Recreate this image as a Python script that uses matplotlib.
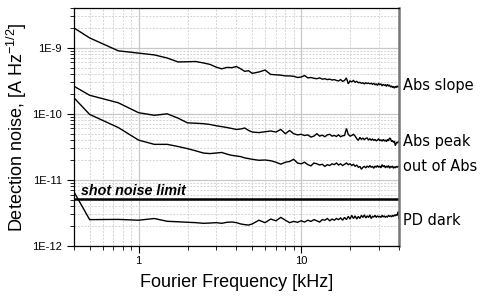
import matplotlib
matplotlib.use("Agg")
import matplotlib.pyplot as plt
from matplotlib.ticker import LogLocator, NullFormatter, FixedLocator

freq = [0.4, 0.5, 0.75, 1.0, 1.25, 1.5, 1.75, 2.0, 2.25, 2.5, 2.75, 3.0, 3.25, 3.5, 3.75,
        4.0, 4.25, 4.5, 4.75, 5.0, 5.5, 6.0, 6.5, 7.0, 7.5, 8.0, 8.5, 9.0, 9.5,
        10, 10.5, 11, 11.5, 12, 12.5, 13, 13.5, 14, 14.5, 15, 15.5, 16, 16.5, 17, 17.5,
        18, 18.5, 19, 19.5, 20, 20.5, 21, 21.5, 22, 22.5, 23, 23.5, 24, 24.5, 25, 25.5,
        26, 26.5, 27, 27.5, 28, 28.5, 29, 29.5, 30, 30.5, 31, 31.5, 32, 32.5, 33, 33.5,
        34, 34.5, 35, 35.5, 36, 36.5, 37, 37.5, 38, 38.5, 39, 39.5, 40]

# units of 1e-10
abs_slope = [20, 14.1, 9.0, 8.3, 7.8, 7.0, 6.1, 6.15, 6.2, 5.9, 5.6, 5.1, 4.8, 5.05, 5.0,
             5.2, 4.8, 4.4, 4.5, 4.1, 4.3, 4.6, 3.95, 3.9, 3.85, 3.75, 3.75, 3.7, 3.55,
             3.6, 3.8, 3.5, 3.55, 3.45, 3.4, 3.5, 3.35, 3.4, 3.3, 3.35, 3.25, 3.3, 3.2, 3.15, 3.3,
             3.1, 3.2, 3.5, 2.85, 3.15, 3.05, 3.2, 3.0, 3.1, 2.95, 3.0, 2.9, 2.95, 2.85, 2.95, 2.88,
             2.92, 2.85, 2.9, 2.8, 2.9, 2.75, 2.85, 2.7, 2.9, 2.75, 2.85, 2.65, 2.8, 2.7, 2.75, 2.6,
             2.8, 2.65, 2.7, 2.55, 2.65, 2.5, 2.6, 2.45, 2.6, 2.5, 2.65, 2.55, 2.6]

# units of 1e-11
abs_peak = [26.2, 19.1, 14.7, 10.4, 9.5, 10.0, 8.6, 7.3, 7.2, 7.1, 6.9, 6.6, 6.4, 6.2, 6.0,
            5.8, 5.9, 6.1, 5.6, 5.3, 5.2, 5.35, 5.5, 5.3, 5.8, 5.0, 5.6, 5.0, 4.8,
            4.9, 4.7, 4.8, 4.45, 4.6, 5.0, 4.6, 4.75, 4.5, 4.8, 4.9, 4.6, 4.7, 4.55, 4.8, 4.5,
            4.65, 4.7, 6.0, 4.9, 4.6, 4.7, 4.9, 4.6, 4.2, 3.97, 4.4, 4.1, 4.3, 4.05, 4.25, 4.3,
            4.0, 4.2, 4.0, 4.15, 3.95, 4.1, 3.9, 4.0, 4.2, 3.9, 4.05, 3.85, 4.1, 3.9, 4.0, 3.8,
            4.1, 3.9, 4.3, 4.2, 3.8, 3.95, 3.7, 3.85, 3.3, 3.6, 3.75, 3.6, 3.9]

# units of 1e-11
out_of_abs = [17.5, 9.8, 6.2, 4.0, 3.45, 3.45, 3.2, 2.97, 2.75, 2.55, 2.5, 2.55, 2.6, 2.45, 2.35,
              2.3, 2.25, 2.15, 2.1, 2.05, 1.98, 2.0, 1.95, 1.85, 1.73, 1.85, 1.9, 2.05, 1.8,
              1.75, 1.85, 1.7, 1.63, 1.8, 1.75, 1.68, 1.72, 1.6, 1.7, 1.65, 1.75, 1.7, 1.8, 1.68, 1.75,
              1.65, 1.72, 1.8, 1.7, 1.75, 1.65, 1.72, 1.6, 1.68, 1.55, 1.6, 1.45, 1.55, 1.6, 1.52, 1.62,
              1.55, 1.65, 1.55, 1.6, 1.5, 1.62, 1.55, 1.65, 1.55, 1.62, 1.52, 1.7, 1.58, 1.65, 1.52, 1.62,
              1.55, 1.65, 1.5, 1.6, 1.55, 1.62, 1.5, 1.58, 1.52, 1.6, 1.55, 1.6, 1.58]

# units of 1e-12
pd_dark = [6.6, 2.5, 2.52, 2.45, 2.6, 2.36, 2.32, 2.28, 2.25, 2.2, 2.22, 2.25, 2.2, 2.28, 2.3,
           2.25, 2.15, 2.1, 2.07, 2.15, 2.45, 2.25, 2.55, 2.4, 2.7, 2.45, 2.25, 2.35, 2.28,
           2.4, 2.3, 2.45, 2.35, 2.5, 2.4, 2.3, 2.5, 2.45, 2.6, 2.4, 2.55, 2.45, 2.6, 2.5, 2.65,
           2.45, 2.7, 2.5, 2.8, 2.55, 2.9, 2.6, 2.85, 2.55, 2.8, 2.6, 2.9, 2.7, 2.95, 2.65, 2.85,
           2.7, 2.95, 2.6, 2.8, 2.75, 2.9, 2.7, 2.85, 2.75, 2.8, 2.7, 2.9, 2.75, 2.85, 2.7, 2.8,
           2.75, 2.9, 2.8, 2.85, 2.75, 2.9, 2.8, 2.95, 2.85, 3.0, 2.9, 3.3, 2.6]

shot_noise = 5.1e-12

series = [
    ("Abs slope", abs_slope, 1e-10),
    ("Abs peak", abs_peak, 1e-11),
    ("out of Abs", out_of_abs, 1e-11),
    ("PD dark", pd_dark, 1e-12),
]
label_pos = {"Abs slope": 2.7e-10, "Abs peak": 3.8e-11, "out of Abs": 1.6e-11, "PD dark": 2.4e-12}

ytick_vals = [1e-12, 1e-11, 1e-10, 1e-9]
ytick_labels = ["1E-12", "1E-11", "1E-10", "1E-9"]
xtick_vals = [1, 10]
xtick_labels = ["1", "10"]

plt.rcParams['font.family'] = ['Liberation Sans', 'DejaVu Sans']
plt.rcParams['mathtext.fontset'] = 'custom'
plt.rcParams['mathtext.rm'] = 'Liberation Sans'
plt.rcParams['mathtext.it'] = 'Liberation Sans:italic'
plt.rcParams['mathtext.default'] = 'regular'

fig = plt.figure(figsize=(4.83, 2.97), dpi=100)
ax = fig.add_axes([0.153, 0.172, 0.673, 0.801])
ax.set_xscale('log')
ax.set_yscale('log')
ax.set_xlim(0.4, 40)
ax.set_ylim(1e-12, 4e-9)

for name, vals, scale in series:
    n = min(len(freq), len(vals))
    ys = [v * scale for v in vals[:n]]
    ax.plot(freq[:n], ys, color='black', lw=1.0, solid_joinstyle='miter')
    ax.text(1.012, label_pos[name], name, transform=ax.get_yaxis_transform(),
            fontsize=10.5, family='DejaVu Sans', va='center', ha='left')

ax.axhline(shot_noise, color='black', lw=1.8)
ax.text(0.44, 6.9e-12, "shot noise limit", fontsize=10.3, fontweight='bold',
        fontstyle='italic', va='center', ha='left')

ax.yaxis.set_major_locator(FixedLocator(ytick_vals))
ax.set_yticklabels(ytick_labels)
ax.yaxis.set_minor_locator(LogLocator(base=10, subs=range(2, 10), numticks=20))
ax.yaxis.set_minor_formatter(NullFormatter())
ax.xaxis.set_major_locator(FixedLocator(xtick_vals))
ax.set_xticklabels(xtick_labels)
ax.xaxis.set_minor_locator(LogLocator(base=10, subs=range(2, 10), numticks=20))
ax.xaxis.set_minor_formatter(NullFormatter())

ax.tick_params(axis='both', which='major', labelsize=8, length=5, width=0.8, direction='out')
ax.tick_params(axis='both', which='minor', length=3, width=0.6, direction='out')
ax.tick_params(axis='x', which='major', pad=2)

ax.grid(True, which='major', color='#c8c8c8', lw=0.9, ls='-')
ax.grid(True, which='minor', color='#d4d4d4', lw=0.7, ls=(0, (2, 1.5)))
ax.set_axisbelow(True)

for s in ['left', 'bottom', 'top']:
    ax.spines[s].set_color('black')
    ax.spines[s].set_linewidth(0.9)
ax.spines['right'].set_color('#777777')
ax.spines['right'].set_linewidth(1.8)

ax.set_xlabel("Fourier Frequency [kHz]", fontsize=13, labelpad=6)
ax.set_ylabel("Detection noise, [A Hz$^{-1/2}$]", fontsize=13, labelpad=2)

fig.savefig("out.png", dpi=100)
